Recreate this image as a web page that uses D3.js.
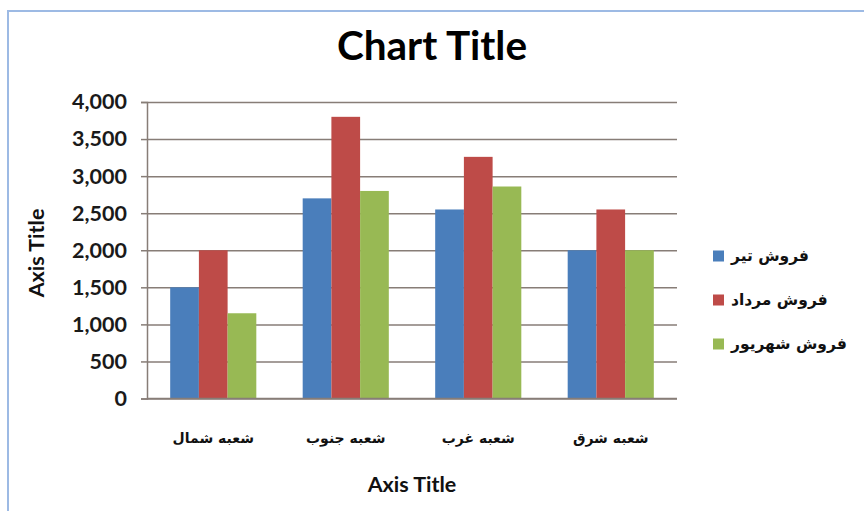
<!DOCTYPE html>
<html>
<head>
<meta charset="utf-8">
<script src="https://cdn.jsdelivr.net/npm/d3@7"></script>
<style>
  body { margin: 0; background: #fff; }
  svg { display: block; }
</style>
</head>
<body>
<div id="chart"></div>
<script>
var width = 864,
    height = 511;

// data
var categories = ["شعبه شمال", "شعبه جنوب", "شعبه غرب", "شعبه شرق"];
var seriesNames = ["فروش تیر", "فروش مرداد", "فروش شهریور"];
var tir     = [1500, 2700, 2550, 2000];
var mordad  = [2000, 3800, 3260, 2550];
var shahrivar = [1150, 2800, 2860, 2000];
var yTicks = [0, 500, 1000, 1500, 2000, 2500, 3000, 3500, 4000];
var colors = ["#4a7ebb", "#be4b48", "#98b954"];

var seriesValues = [tir, mordad, shahrivar];

var plot = {left: 147, right: 677, top: 102, bottom: 398.5};
var latin = "Lato, 'Open Sans', sans-serif";
var arabic = "'DejaVu Sans', sans-serif";
var gridColor = "#877d77";

var svg = d3.select("#chart").append("svg")
    .attr("width", width)
    .attr("height", height);

// outer frame
svg.append("rect")
    .attr("x", 8).attr("y", 11)
    .attr("width", width).attr("height", height)
    .attr("fill", "#fff")
    .attr("stroke", "#9dbae4")
    .attr("stroke-width", 2);

var y = d3.scaleLinear().domain([0, 4000]).range([plot.bottom, plot.top]);

var x0 = d3.scaleBand()
    .domain(categories)
    .range([plot.left, plot.right])
    .paddingInner(0.35)
    .paddingOuter(0.175);

var x1 = d3.scaleBand()
    .domain(seriesNames)
    .range([0, x0.bandwidth()]);

// gridlines
var grid = svg.append("g")
    .attr("transform", "translate(" + plot.left + ",0)")
    .call(d3.axisLeft(y).tickValues(yTicks).tickSize(-(plot.right - plot.left)).tickFormat(""));
grid.select(".domain").remove();
grid.selectAll("line").attr("stroke", gridColor).attr("stroke-width", 1.5);

// bars
var groups = svg.append("g").selectAll("g")
    .data(categories)
    .join("g")
    .attr("transform", function (d) { return "translate(" + x0(d) + ",0)"; });

groups.selectAll("rect")
    .data(function (d, i) {
      return seriesNames.map(function (s, k) { return {name: s, value: seriesValues[k][i], k: k}; });
    })
    .join("rect")
    .attr("x", function (d) { return x1(d.name); })
    .attr("y", function (d) { return y(d.value); })
    .attr("width", x1.bandwidth())
    .attr("height", function (d) { return y(0) - y(d.value); })
    .attr("fill", function (d) { return colors[d.k]; });

// y axis
var yAxis = svg.append("g")
    .attr("transform", "translate(" + plot.left + ",0)")
    .call(d3.axisLeft(y).tickValues(yTicks).tickSize(6).tickPadding(14).tickFormat(d3.format(",")));
yAxis.select(".domain").attr("stroke", gridColor).attr("stroke-width", 1.5);
yAxis.selectAll("line").attr("stroke", gridColor).attr("stroke-width", 1.5);
yAxis.selectAll("text")
    .attr("font-family", latin)
    .attr("font-weight", "bold")
    .attr("font-size", 21.5)
    .attr("fill", "#1a1a1a");

// x axis baseline
svg.append("line")
    .attr("x1", plot.left).attr("x2", plot.right)
    .attr("y1", y(0)).attr("y2", y(0))
    .attr("stroke", gridColor).attr("stroke-width", 1.5);

// category labels
svg.append("g").selectAll("text")
    .data(categories)
    .join("text")
    .attr("x", function (d) { return x0(d) + x0.bandwidth() / 2; })
    .attr("y", 443)
    .attr("text-anchor", "middle")
    .attr("font-family", arabic)
    .attr("font-weight", "bold")
    .attr("font-size", 14)
    .attr("fill", "#111")
    .text(function (d) { return d; });

// titles
svg.append("text")
    .attr("x", 432).attr("y", 60)
    .attr("text-anchor", "middle")
    .attr("font-family", latin)
    .attr("font-weight", "bold")
    .attr("font-size", 40.5)
    .attr("fill", "#000")
    .text("Chart Title");

svg.append("text")
    .attr("x", 412).attr("y", 492)
    .attr("text-anchor", "middle")
    .attr("font-family", latin)
    .attr("font-weight", "bold")
    .attr("font-size", 21.5)
    .attr("fill", "#111")
    .text("Axis Title");

svg.append("text")
    .attr("transform", "translate(44,253) rotate(-90)")
    .attr("text-anchor", "middle")
    .attr("font-family", latin)
    .attr("font-weight", "bold")
    .attr("font-size", 21.5)
    .attr("fill", "#111")
    .text("Axis Title");

// legend
var legend = svg.append("g").selectAll("g")
    .data(seriesNames)
    .join("g")
    .attr("transform", function (d, i) { return "translate(713," + (256 + i * 44) + ")"; });

legend.append("rect")
    .attr("x", 0).attr("y", -5.5)
    .attr("width", 11).attr("height", 11)
    .attr("fill", function (d, i) { return colors[i]; });

legend.append("text")
    .attr("x", 18).attr("y", 0)
    .attr("dy", "0.35em")
    .attr("font-family", arabic)
    .attr("font-weight", "bold")
    .attr("font-size", 15.5)
    .attr("fill", "#111")
    .text(function (d) { return d; });
</script>
</body>
</html>
